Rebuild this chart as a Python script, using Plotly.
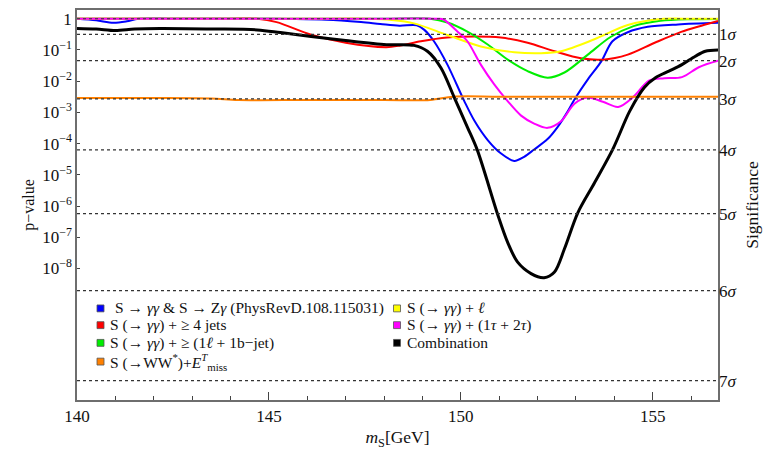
import math
import plotly.graph_objects as go

# ---- data: local p-values versus scalar mass m_S [GeV] ----
m_blue = [140.0, 140.5, 140.95, 141.3, 141.6, 142.5, 143.5, 144.5, 145.5, 146.5, 147.4, 147.9,
          148.4, 148.85, 149.05, 149.3, 149.65, 150.09, 150.35, 150.7, 151.04, 151.39, 151.65,
          151.91, 152.26, 152.52, 152.79, 152.96, 153.31, 153.66, 153.95, 154.35, 154.87,
          155.66, 156.7]
p_blue = [1.0, 0.89, 0.74, 0.83, 1.0, 1.0, 1.0, 1.0, 0.98, 0.93, 0.78, 0.68,
          0.60, 0.62, 0.44, 0.19, 0.034, 2.3e-3, 5.5e-4, 1.3e-4, 4.9e-5, 2.8e-5, 3.8e-5,
          6.5e-5, 1.4e-4, 3.4e-4, 1.1e-3, 2.6e-3, 0.0115, 0.043, 0.19, 0.37, 0.55,
          0.66, 0.74]

m_yellow = [140.0, 142.0, 144.0, 146.0, 147.6, 148.2, 148.78, 149.65, 150.52, 151.39, 152.09,
            152.61, 153.48, 154.35, 155.22, 156.0, 156.7]
p_yellow = [1.0, 1.0, 1.0, 1.0, 1.0, 0.91, 0.71, 0.30, 0.13, 0.085, 0.079,
            0.091, 0.22, 0.63, 0.98, 1.0, 1.0]

m_red = [140.0, 142.0, 144.0, 144.7, 145.2, 146.1, 147.0, 148.06, 148.43, 148.96, 149.65,
         150.35, 151.04, 151.74, 152.44, 153.13, 153.7, 154.35, 155.05, 155.74, 156.27, 156.7]
p_red = [1.0, 1.0, 1.0, 1.0, 0.78, 0.31, 0.17, 0.123, 0.14, 0.19, 0.25,
         0.27, 0.25, 0.17, 0.091, 0.054, 0.049, 0.071, 0.17, 0.38, 0.60, 0.85]

m_magenta = [140.0, 142.0, 144.0, 146.0, 148.0, 149.4, 149.56, 149.91, 150.17, 150.52, 150.87,
             151.22, 151.57, 151.91, 152.26, 152.61, 152.96, 153.3, 153.7, 154.1, 154.5,
             154.9, 155.3, 155.76, 156.2, 156.7]
p_magenta = [1.0, 1.0, 1.0, 1.0, 1.0, 1.0, 0.93, 0.39, 0.19, 0.034, 7.9e-3,
             2.3e-3, 7.9e-4, 4.4e-4, 3.2e-4, 5.2e-4, 1.9e-3, 3.0e-3, 2.2e-3, 1.5e-3, 3.2e-3,
             0.0105, 0.0125, 0.0135, 0.028, 0.045]

m_green = [140.0, 142.0, 144.0, 146.0, 148.0, 149.2, 149.65, 150.17, 150.7, 151.22, 151.74,
           152.26, 152.7, 153.31, 153.9, 154.5, 155.2, 156.0, 156.7]
p_green = [1.0, 1.0, 1.0, 1.0, 1.0, 1.0, 0.76, 0.39, 0.15, 0.049, 0.021,
           0.013, 0.019, 0.071, 0.26, 0.58, 0.86, 0.97, 0.99]

m_black = [140.0, 140.5, 141.0, 141.5, 142.17, 143.5, 144.7, 145.3, 146.1, 147.0, 148.06,
           148.78, 149.13, 149.48, 149.83, 150.17, 150.43, 150.96, 151.22, 151.48, 151.83,
           152.17, 152.44, 152.7, 153.05, 153.48, 153.97, 154.4, 154.78, 155.07, 155.42,
           155.76, 156.11, 156.37, 156.7]
p_black = [0.49, 0.47, 0.42, 0.47, 0.49, 0.47, 0.44, 0.36, 0.27, 0.20, 0.148,
           0.14, 0.091, 0.027, 3.0e-3, 3.4e-4, 6.2e-5, 5.4e-7, 6.9e-8, 1.6e-8, 6.9e-9,
           5.1e-9, 7.8e-9, 4.3e-8, 6.2e-7, 5.5e-6, 7.1e-5, 1.1e-3, 6.3e-3, 0.0129, 0.021,
           0.034, 0.063, 0.091, 0.10]

m_orange = [140.0, 142.0, 143.5, 144.2, 146.0, 148.0, 149.2, 149.8, 151.0, 153.0, 155.0, 156.7]
p_orange = [2.9e-3, 2.9e-3, 2.8e-3, 2.5e-3, 2.5e-3, 2.5e-3, 2.5e-3, 3.2e-3, 3.2e-3, 3.2e-3,
            3.2e-3, 3.2e-3]

# significance levels shown as dashed reference lines (two-sided p-values)
sigma_levels = [0, 1, 2, 3, 4, 5, 6, 7]
sigma_p = [math.erfc(n / math.sqrt(2)) for n in sigma_levels]

decade_exps = [0, -1, -2, -3, -4, -5, -6, -7, -8]
decade_text = ["1"] + [f"10<sup>−{-e}</sup>" for e in decade_exps[1:]]

x_ticks = [140, 145, 150, 155]
x_range = [140.0, 156.7]

series = [
    # (name, masses, p-values, colour, width)
    ("S → <i>γγ</i> &amp; S → Z<i>γ</i> (PhysRevD.108.115031)", m_blue, p_blue, "#0000ff", 2),
    ("S (→ <i>γγ</i>) + ≥ 4 jets", m_red, p_red, "#ff0000", 2),
    ("S (→ <i>γγ</i>) + ≥ (1<i>ℓ</i> + 1b−jet)", m_green, p_green, "#00ee00", 2),
    ("S (→ <i>γγ</i>) + <i>ℓ</i>", m_yellow, p_yellow, "#ffff00", 2),
    ("S (→ <i>γγ</i>) + (1<i>τ</i> + 2<i>τ</i>)", m_magenta, p_magenta, "#ff00ff", 2),
    ("S (→WW<sup>*</sup>)+<i>E</i><sup><i>T</i></sup><sub>miss</sub>", m_orange, p_orange, "#ff8000", 2),
    ("Combination", m_black, p_black, "#000000", 3),
]

FONT = "Liberation Serif"
fig = go.Figure()

# dashed significance reference lines on the significance axis
for p in sigma_p:
    fig.add_trace(go.Scatter(
        x=x_range, y=[p, p], mode="lines", yaxis="y2",
        line=dict(color="#333333", width=1.2, dash="3px,3px"),
        hoverinfo="skip", showlegend=False))

for name, xs, ps, col, w in series:
    fig.add_trace(go.Scatter(
        x=xs, y=ps, mode="lines", name=name,
        line=dict(color=col, width=w, shape="spline", smoothing=0.9),
        showlegend=False))

# legend drawn as coloured squares + labels inside the plot area
plot_l, plot_r, plot_t, plot_b = 77, 718, 8, 404
pw, ph = plot_r - plot_l, plot_b - plot_t

def px_x(v):
    return (v - plot_l) / pw

def px_y(v):
    return (plot_b - v) / ph

legend_layout = [
    # (series index, square centre x, text x, row y)
    (0, 100.5, 113, 311),
    (3, 397.0, 405, 311),
    (1, 100.5, 108, 328),
    (4, 397.0, 405, 328),
    (2, 100.5, 108, 346),
    (6, 397.0, 405, 346),
    (5, 100.5, 108, 365),
]
shapes = []
annotations = []
for idx, sx, tx, ry in legend_layout:
    name, _, _, col, _ = series[idx]
    shapes.append(dict(
        type="rect", xref="paper", yref="paper",
        x0=px_x(sx - 3.5), x1=px_x(sx + 3.5), y0=px_y(ry + 3.5), y1=px_y(ry - 3.5),
        fillcolor=col, line=dict(color="#555555", width=0.8)))
    annotations.append(dict(
        x=px_x(tx), y=px_y(ry), xref="paper", yref="paper", text=name,
        showarrow=False, xanchor="left", yanchor="middle",
        font=dict(family=FONT, size=15.5, color="#111111")))

ymin, ymax = -12.21, 0.28
axis_line = dict(showline=True, linecolor="#6e6e6e", linewidth=1.5)

fig.update_layout(
    width=776, height=452,
    margin=dict(l=plot_l, r=776 - plot_r, t=plot_t, b=452 - plot_b),
    paper_bgcolor="white", plot_bgcolor="white",
    font=dict(family=FONT, size=17, color="#111111"),
    shapes=shapes, annotations=annotations,
    showlegend=False,
    xaxis=dict(
        range=x_range, tickvals=x_ticks, ticks="inside", ticklen=8, tickwidth=1,
        tickcolor="#444444", mirror=True, showgrid=False, zeroline=False,
        minor=dict(dtick=1, ticks="inside", ticklen=4, tickcolor="#444444", showgrid=False),
        tickfont=dict(size=17), title=dict(text="<i>m</i><sub>S</sub>[GeV]",
                                           font=dict(size=17.5), standoff=6),
        **axis_line),
    yaxis=dict(
        type="log", range=[ymin, ymax], tickvals=[10.0 ** e for e in decade_exps],
        ticktext=decade_text, ticks="inside", ticklen=3, tickcolor="#444444",
        mirror=True, showgrid=False, zeroline=False, tickfont=dict(size=17),
        title=dict(text="p−value", font=dict(size=16), standoff=4),
        **axis_line),
    yaxis2=dict(
        type="log", range=[ymin, ymax], overlaying="y", side="right", anchor="x",
        tickvals=sigma_p[1:], ticktext=[f"{n}<i>σ</i>" for n in sigma_levels[1:]],
        ticks="", showgrid=False, zeroline=False, showline=False,
        tickfont=dict(size=17),
        title=dict(text="Significance", font=dict(size=17.5), standoff=10)),
)

fig.write_html("out.html")
